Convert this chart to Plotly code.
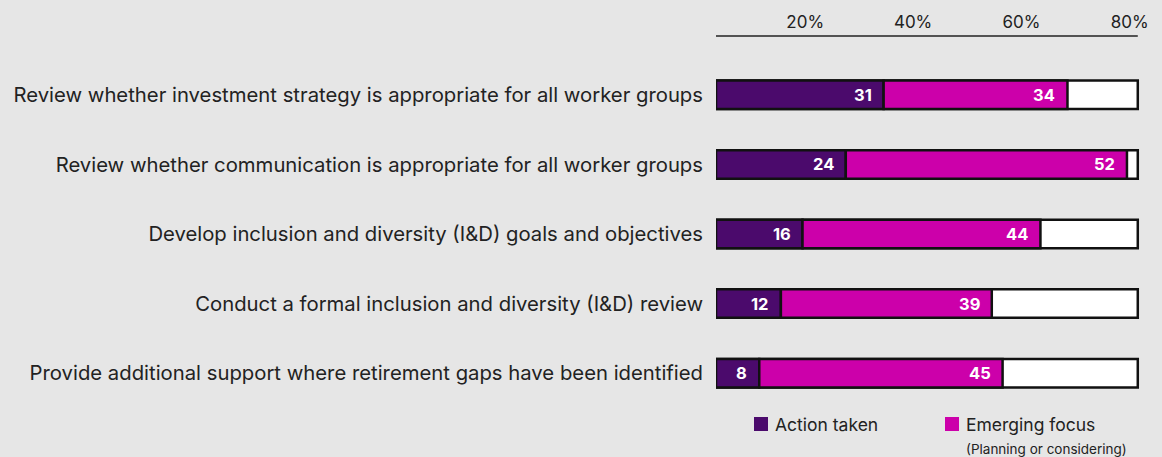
import plotly.graph_objects as go

# Survey items, top to bottom
categories = [
    "Review whether investment strategy is appropriate for all worker groups",
    "Review whether communication is appropriate for all worker groups",
    "Develop inclusion and diversity (I&D) goals and objectives",
    "Conduct a formal inclusion and diversity (I&D) review",
    "Provide additional support where retirement gaps have been identified",
]
action_taken = [31, 24, 16, 12, 8]
emerging_focus = [34, 52, 44, 39, 45]
frame_extent = [78, 78, 78, 78, 78]  # white outline box behind each bar

tick_values = [20, 40, 60, 80]
tick_labels = ["20%", "40%", "60%", "80%"]

PURPLE = "#4b0a6c"
MAGENTA = "#cc00aa"
BG = "#e6e6e6"
FONT = "Inter"

fig = go.Figure()

fig.add_trace(go.Bar(
    y=categories, x=frame_extent, base=0, orientation="h",
    marker=dict(color="white", line=dict(color="#111111", width=2.5)),
    width=0.41, showlegend=False, hoverinfo="skip",
))
fig.add_trace(go.Bar(
    y=categories, x=action_taken, base=0, orientation="h", name="Action taken",
    marker=dict(color=PURPLE, line=dict(color="#111111", width=2.5)),
    width=0.41, showlegend=False,
))
fig.add_trace(go.Bar(
    y=categories, x=emerging_focus, base=action_taken, orientation="h",
    name="Emerging focus",
    marker=dict(color=MAGENTA, line=dict(color="#111111", width=2.5)),
    width=0.41, showlegend=False,
))

# Value labels at the inner end of each segment
value_font = dict(family=FONT, size=16.5, color="white", weight="bold")
annotations = []
for cat, a, e in zip(categories, action_taken, emerging_focus):
    annotations.append(dict(
        x=a, y=cat, xref="x", yref="y", text=str(a), showarrow=False,
        xanchor="right", xshift=-10, font=value_font,
    ))
    annotations.append(dict(
        x=a + e, y=cat, xref="x", yref="y", text=str(e), showarrow=False,
        xanchor="right", xshift=-10, font=value_font,
    ))

# Legend built from swatches and text
legend_font = dict(family=FONT, size=17.5, color="#222222")
shapes = [
    dict(type="line", xref="x", yref="paper", x0=0, x1=frame_extent[0],
         y0=1.069, y1=1.069, line=dict(color="#222222", width=1.5)),
    dict(type="rect", xref="paper", yref="paper",
         x0=(754 - 716) / 438, x1=(768 - 716) / 438,
         y0=-(431 - 408) / 348, y1=-(417 - 408) / 348,
         fillcolor=PURPLE, line=dict(width=0)),
    dict(type="rect", xref="paper", yref="paper",
         x0=(945 - 716) / 438, x1=(959 - 716) / 438,
         y0=-(431 - 408) / 348, y1=-(417 - 408) / 348,
         fillcolor=MAGENTA, line=dict(width=0)),
]
annotations += [
    dict(xref="paper", yref="paper", x=(773 - 716) / 438, y=-(424 - 408) / 348,
         text="Action taken", showarrow=False, xanchor="left", yanchor="middle",
         font=legend_font),
    dict(xref="paper", yref="paper", x=(964 - 716) / 438, y=-(424 - 408) / 348,
         text="Emerging focus", showarrow=False, xanchor="left", yanchor="middle",
         font=legend_font),
    dict(xref="paper", yref="paper", x=(964 - 716) / 438, y=-(449 - 408) / 348,
         text="(Planning or considering)", showarrow=False, xanchor="left",
         yanchor="middle", font=dict(family=FONT, size=13.5, color="#222222")),
]

fig.update_layout(
    width=1162, height=457,
    margin=dict(l=716, r=8, t=60, b=49),
    paper_bgcolor=BG, plot_bgcolor=BG,
    barmode="overlay",
    annotations=annotations, shapes=shapes,
    font=dict(family=FONT, color="#222222"),
)
fig.update_xaxes(
    range=[0, 81], side="top", showgrid=False, zeroline=False, showline=False,
    tickvals=tick_values, ticktext=tick_labels, ticks="",
    ticklabelposition="outside left", ticklabelstandoff=28,
    tickfont=dict(family=FONT, size=17, color="#222222"),
)
fig.update_yaxes(
    autorange="reversed", showgrid=False, zeroline=False, showline=False,
    ticks="", ticklabelstandoff=12,
    tickfont=dict(family=FONT, size=20.3, color="#222222"),
)

fig.write_html("out.html")
